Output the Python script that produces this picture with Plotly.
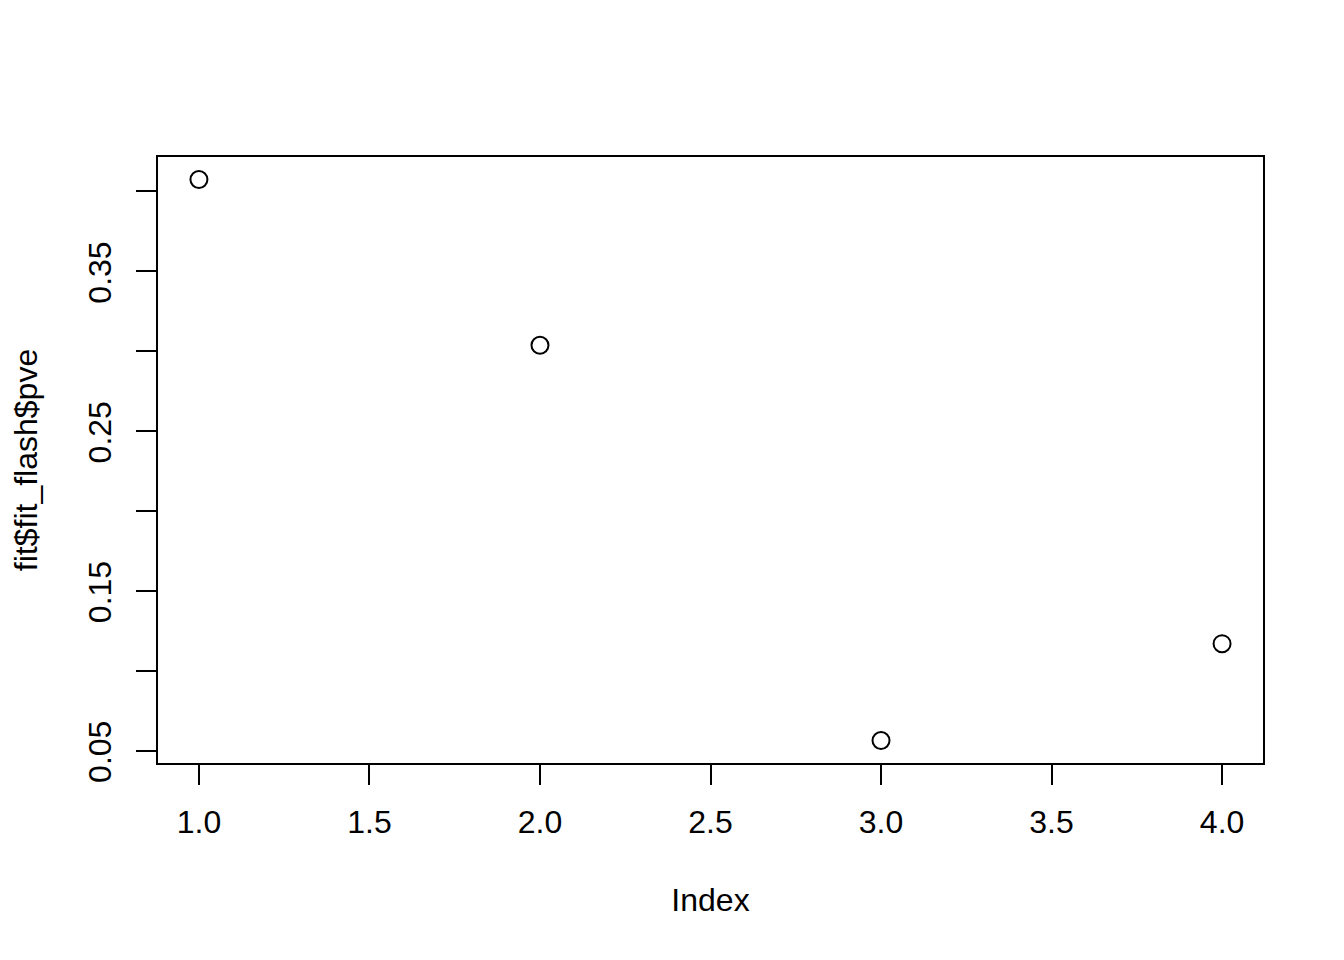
import plotly.graph_objects as go

index_vals = [1, 2, 3, 4]
pve_vals = [0.4075, 0.30375, 0.05625, 0.1169]

x_tickvals = [1.0, 1.5, 2.0, 2.5, 3.0, 3.5, 4.0]
x_ticktext = ["1.0", "1.5", "2.0", "2.5", "3.0", "3.5", "4.0"]
y_tickvals = [0.05, 0.10, 0.15, 0.20, 0.25, 0.30, 0.35, 0.40]
y_ticktext = ["0.05", "", "0.15", "", "0.25", "", "0.35", ""]

font = dict(family="Liberation Sans, Arial, Helvetica, sans-serif", size=32, color="black")

fig = go.Figure()
fig.add_trace(go.Scatter(
    x=index_vals, y=pve_vals, mode="markers",
    marker=dict(symbol="circle-open", size=17, color="black", line=dict(width=2, color="black")),
    showlegend=False, hoverinfo="x+y",
))

def xr(vals):
    lo, hi = min(vals), max(vals)
    d = (hi - lo) * 0.04
    return [lo - d, hi + d]

fig.update_layout(
    width=1336, height=952, autosize=False,
    margin=dict(l=150, r=81, t=149, b=197, pad=0),
    paper_bgcolor="white", plot_bgcolor="white",
    font=font,
    xaxis=dict(
        range=xr(index_vals), tickvals=x_tickvals, ticktext=x_ticktext,
        ticks="outside", ticklen=20, tickwidth=2, tickcolor="black",
        showline=True, linewidth=2, linecolor="black", mirror=True,
        showgrid=False, zeroline=False, tickfont=font, ticklabelstandoff=10,
        title=dict(text="Index", font=font, standoff=49),
    ),
    yaxis=dict(
        range=xr(pve_vals), tickvals=y_tickvals, ticktext=y_ticktext,
        ticks="outside", ticklen=20, tickwidth=2, tickcolor="black",
        showline=True, linewidth=2, linecolor="black", mirror=True,
        showgrid=False, zeroline=False, tickfont=font, tickangle=-90,
        ticklabelstandoff=12, ticklabelshift=6,
        title=dict(text="fit$fit_flash$pve", font=font, standoff=37),
    ),
)

fig.write_html("out.html")
